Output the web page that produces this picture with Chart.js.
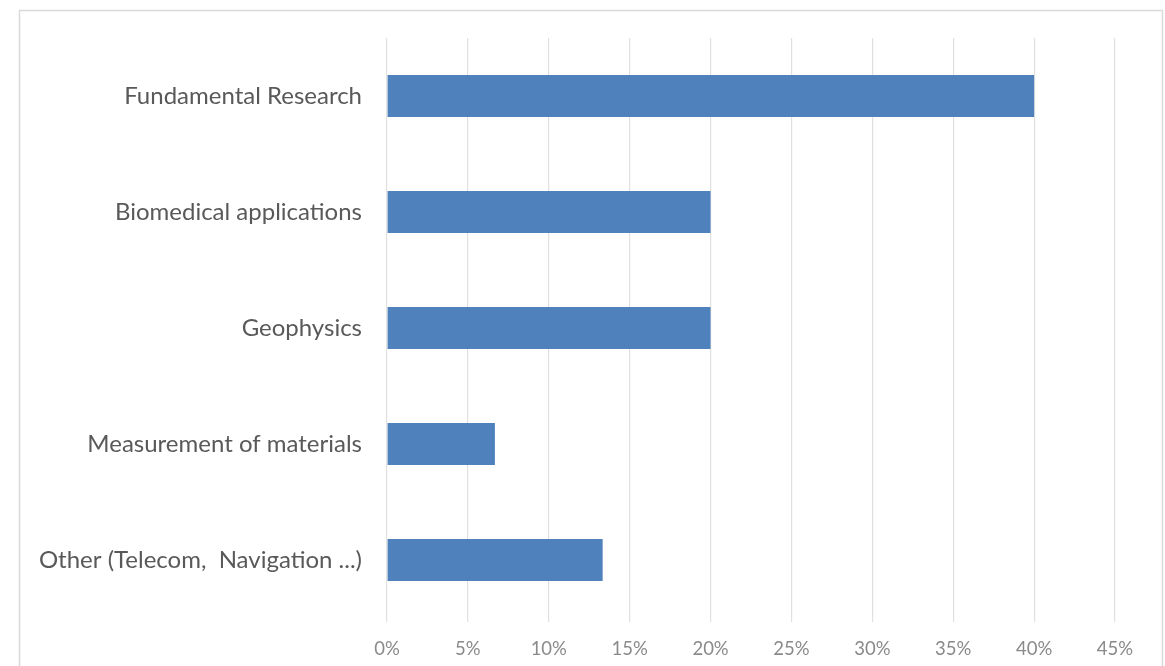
<!DOCTYPE html>
<html>
<head>
<meta charset="utf-8">
<script src="https://cdn.jsdelivr.net/npm/chart.js@4"></script>
<style>
  html, body { margin: 0; padding: 0; background: #fff; }
  #wrap { width: 1165px; height: 666px; position: relative; }
</style>
</head>
<body>
<div id="wrap"><canvas id="grafico" width="1165" height="666"></canvas></div>
<script>
const categorias = [
  'Fundamental Research',
  'Biomedical applications',
  'Geophysics',
  'Measurement of materials',
  'Other (Telecom,  Navigation ...)'
];
const valores = [40, 20, 20, 6.67, 13.33];
const eixoMax = 45;
const passo = 5;

// moldura cinza em volta do grafico
const moldura = {
  id: 'moldura',
  beforeDraw(chart) {
    const ctx = chart.ctx;
    ctx.save();
    ctx.strokeStyle = '#d9d9d9';
    ctx.lineWidth = 1.5;
    ctx.strokeRect(19.5, 10.5, 1143, 700);
    ctx.restore();
  }
};

const fonte = "Lato, 'Open Sans', sans-serif";

new Chart(document.getElementById('grafico'), {
  type: 'bar',
  data: {
    labels: categorias,
    datasets: [{
      data: valores,
      backgroundColor: '#4f81bd',
      borderWidth: 0,
      barPercentage: 0.72,
      categoryPercentage: 0.5
    }]
  },
  options: {
    indexAxis: 'y',
    responsive: false,
    animation: false,
    layout: { padding: { top: 38, right: 50, left: 0, bottom: 0 } },
    plugins: { legend: { display: false }, tooltip: { enabled: false } },
    scales: {
      x: {
        min: 0,
        max: eixoMax,
        ticks: {
          stepSize: passo,
          callback: v => v + '%',
          color: '#8a8a8a',
          font: { family: fonte, size: 18.5 },
          padding: 16
        },
        grid: { color: '#e0e0e0', lineWidth: 1.2, drawTicks: true, tickLength: 4 },
        border: { display: false },
        afterFit: s => { s.height = 48; }
      },
      y: {
        ticks: {
          color: '#595959',
          font: { family: fonte, size: 24 },
          padding: 17
        },
        grid: { display: false },
        border: { display: false },
        afterFit: s => { s.width = 387; }
      }
    }
  },
  plugins: [moldura]
});
</script>
</body>
</html>
